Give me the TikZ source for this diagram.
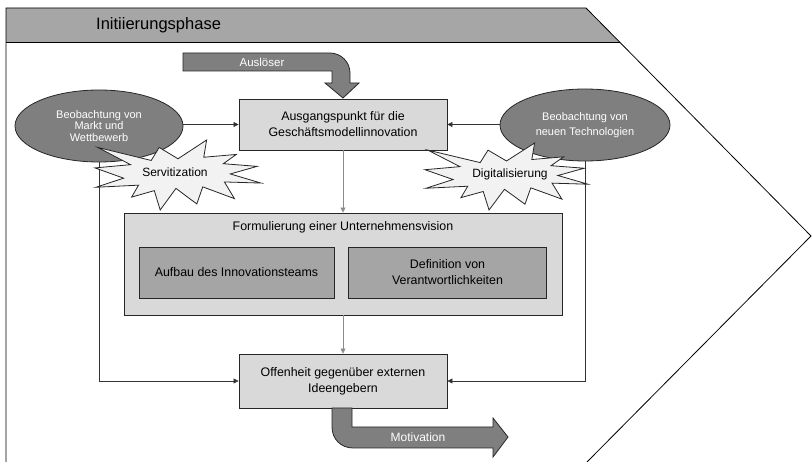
\documentclass[tikz,border=0pt]{standalone}
\usepackage{fontspec}
\setmainfont{Liberation Sans}
\usetikzlibrary{shapes.geometric,arrows.meta}
\definecolor{hdrgray}{HTML}{A6A6A6}
\definecolor{boxgray}{HTML}{D9D9D9}
\definecolor{innergray}{HTML}{A5A5A5}
\definecolor{darkfill}{HTML}{7F7F7F}
\definecolor{burstfill}{HTML}{F2F2F2}
\definecolor{linegray}{HTML}{8C8C8C}
\tikzset{
  boxnode/.style={draw=black!85, line width=0.8pt, fill=boxgray, align=center, inner sep=0pt,
    font=\fontsize{12.4}{16}\selectfont},
  innerbox/.style={boxnode, fill=innergray},
  ellnode/.style={ellipse, draw=black!85, line width=0.8pt, fill=darkfill, text=white, align=center,
    inner sep=0pt, font=\fontsize{11}{11.5}\selectfont},
  conn/.style={draw=black!80, line width=0.6pt, -{Triangle[length=5pt,width=5pt]}},
  vconn/.style={conn, draw=linegray},
  burstshape/.style={draw=black!85, line width=0.8pt, fill=burstfill},
  bursttext/.style={font=\fontsize{12}{14}\selectfont, inner sep=0pt},
  bigarrow/.style={draw=black!85, line width=0.8pt, fill=darkfill},
  arrowtext/.style={text=white, inner sep=0pt, font=\fontsize{12}{14}\selectfont},
  frameline/.style={draw=black, line width=0.8pt}
}
\newcommand{\explosionpath}{(50.0,26.85) -- (67.23,0) -- (65.53,24.65) -- (85.09,20.63) -- (77.32,33.87) -- (97.67,37.67) -- (81.51,48.50) -- (100,61.53) -- (77.95,59.92) -- (84.00,83.77) -- (64.91,66.93) -- (61.33,91.38) -- (48.76,69.14) -- (39.28,100) -- (35.72,72.35) -- (22.05,81.56) -- (26.24,64.52) -- (0.63,67.53) -- (17.23,54.51) -- (0,39.88) -- (21.42,35.26) -- (1.71,10.63) -- (33.85,29.26) -- (38.67,10.63) -- cycle}
\begin{document}
\begin{tikzpicture}[x=1pt,y=-1pt]
\useasboundingbox (0,0) rectangle (812,462);
% frame and header
\fill[hdrgray] (6,8) -- (586,8) -- (620,42) -- (6,42) -- cycle;
\draw[frameline] (6,462) -- (6,8) -- (586,8) -- (811,236) -- (587,462);
\draw[frameline] (6,42) -- (620,42);
\node[anchor=west, inner sep=0pt, font=\fontsize{16.5}{18}\selectfont] (phase) at (96,25) {Initiierungsphase};

% trigger arrow
\path[bigarrow] (183,53) -- (330,53) .. controls (341,53) and (350,62) .. (350,73) -- (350,83) -- (359,83) -- (343,98) -- (325,83) -- (332,83) -- (332,71) -- (183,71) -- cycle;
\node[arrowtext, font=\fontsize{11.5}{13}\selectfont] (ausloeser) at (262,62) {Auslöser};

% main boxes
\node[boxnode, minimum width=208pt, minimum height=51pt] (ausgang) at (343,124.5) {Ausgangspunkt für die\\Geschäftsmodellinnovation};
\node[boxnode, minimum width=438pt, minimum height=102pt] (vision) at (343,264) {};
\node[inner sep=0pt, font=\fontsize{12.4}{16}\selectfont] (visiontitle) at (343,227) {Formulierung einer Unternehmensvision};
\node[innerbox, minimum width=195pt, minimum height=51pt] (team) at (236.5,272.5) {Aufbau des Innovationsteams};
\node[innerbox, minimum width=198pt, minimum height=51pt] (verantw) at (447.5,272.5) {Definition von\\Verantwortlichkeiten};
\node[boxnode, minimum width=208pt, minimum height=54pt] (offen) at (343,381) {Offenheit gegenüber externen\\Ideengebern};

% ellipses
\node[ellnode, minimum width=168pt, minimum height=72pt] (markt) at (99,126) {Beobachtung von\\Markt und\\Wettbewerb};
\node[ellnode, minimum width=170pt, minimum height=72pt, font=\fontsize{11}{15}\selectfont] (tech) at (585,125) {Beobachtung von\\neuen Technologien};

% connectors
\draw[conn] (markt.east |- ausgang.west) -- (ausgang.west);
\draw[conn] (tech.west |- ausgang.east) -- (ausgang.east);
\draw[vconn] (ausgang.south) -- (vision.north);
\draw[vconn] (vision.south) -- (offen.north);
\draw[conn] (markt.south) |- (offen.west);
\draw[conn] (tech.south) |- (offen.east);

% motivation arrow
\path[bigarrow] (332,408) -- (332,427) .. controls (332,439) and (341,448) .. (353,448) -- (493,448) -- (493,457) -- (508,437) -- (493,418) -- (493,427) -- (352,427) -- (352,408) -- cycle;
\node[arrowtext] (motivation) at (418,437.5) {Motivation};

% bursts
\begin{scope}[shift={(95,140)}, xscale=1.66, yscale=0.70]
  \path[burstshape] \explosionpath;
\end{scope}
\node[bursttext] (servit) at (175,172) {Servitization};
\begin{scope}[shift={(425,143)}, xscale=1.63, yscale=0.67]
  \path[burstshape] \explosionpath;
\end{scope}
\node[bursttext] (digital) at (510,174) {Digitalisierung};
\end{tikzpicture}
\end{document}
